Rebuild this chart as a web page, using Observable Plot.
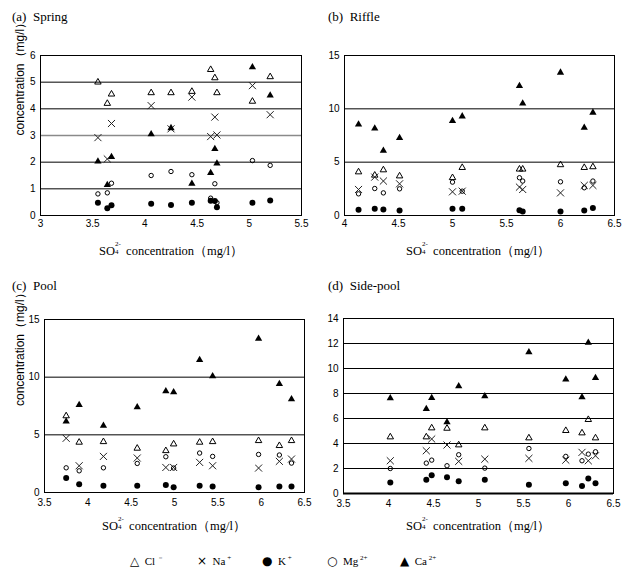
<!DOCTYPE html>
<html>
<head>
<meta charset="utf-8">
<script src="https://cdn.jsdelivr.net/npm/d3@7"></script>
<script src="https://cdn.jsdelivr.net/npm/@observablehq/plot@0.6"></script>
<style>
  html, body { margin: 0; padding: 0; background: white; }
  #root { position: relative; width: 632px; height: 577px; background: white; overflow: hidden; }
  .panel { position: absolute; }
  .title { position: absolute; font-family: 'Liberation Serif', 'Times New Roman', serif; font-size: 13px; white-space: pre; color: #000; line-height: 1; }
  .xlab { position: absolute; font-family: 'Liberation Serif', 'Times New Roman', serif; font-size: 12.5px; white-space: pre; transform: translateX(-50%); line-height: 14px; color: #000; }
  .ss { display: inline-block; position: relative; width: 8px; height: 10px; vertical-align: baseline; }
  .ss .up { position: absolute; left: 0; top: -4px; font-size: 7px; line-height: 7px; }
  .ss .dn { position: absolute; left: 0; top: 4px; font-size: 7px; line-height: 7px; }
  .leg { position: absolute; font-family: 'Liberation Serif', 'Times New Roman', serif; font-size: 11px; white-space: pre; line-height: 1; color: #000; }
  .sym { font-family: 'DejaVu Sans', sans-serif; font-size: 12px; }
  sup { font-size: 7px; vertical-align: 5px; line-height: 0; }
</style>
</head>
<body>
<div id="root"></div>
<script>
// ---------- data ----------
// (a) Spring
const springSO4 = [3.55, 3.64, 3.68, 4.06, 4.25, 4.45, 4.63, 4.67, 4.69, 5.03, 5.20];
const springCl  = [5.0, 4.2, 4.55, 4.6, 4.6, 4.65, 5.47, 5.16, 4.6, 4.28, 5.2];
const springNa  = [2.92, 2.12, 3.45, 4.12, 3.25, 4.44, 2.96, 3.69, 3.02, 4.87, 3.78];
const springK   = [0.48, 0.27, 0.38, 0.44, 0.39, 0.48, 0.55, 0.54, 0.31, 0.48, 0.56];
const springMg  = [0.81, 0.85, 1.21, 1.5, 1.65, 1.53, 0.65, 1.19, 0.48, 2.06, 1.88];
const springCa  = [2.03, 1.15, 2.2, 3.05, 3.28, 1.19, 1.6, 2.5, 1.95, 5.56, 4.5];

// (b) Riffle
const riffleSO4 = [4.13, 4.28, 4.36, 4.51, 5.0, 5.09, 5.62, 5.65, 6.0, 6.22, 6.30];
const riffleCl  = [4.08, 3.77, 4.27, 3.7, 3.54, 4.49, 4.34, 4.34, 4.75, 4.49, 4.56];
const riffleNa  = [2.44, 3.6, 3.23, 2.97, 2.22, 2.28, 2.66, 2.44, 2.12, 2.82, 2.82];
const riffleK   = [0.54, 0.63, 0.57, 0.47, 0.63, 0.63, 0.5, 0.38, 0.38, 0.47, 0.7];
const riffleMg  = [2.03, 2.53, 2.12, 2.5, 3.13, 2.28, 3.54, 3.23, 3.16, 2.6, 3.23];
const riffleCa  = [8.54, 8.16, 6.08, 7.28, 8.86, 9.3, 12.15, 10.5, 13.4, 8.23, 9.65];

// (c) Pool
const poolSO4 = [3.75, 3.90, 4.18, 4.57, 4.90, 4.99, 5.29, 5.44, 5.97, 6.21, 6.35];
const poolCl  = [6.64, 4.35, 4.4, 3.83, 3.62, 4.2, 4.35, 4.4, 4.49, 4.06, 4.49];
const poolNa  = [4.7, 2.32, 3.13, 2.99, 2.17, 2.17, 2.61, 2.32, 2.12, 2.7, 2.9];
const poolK   = [1.25, 0.72, 0.58, 0.58, 0.64, 0.46, 0.58, 0.52, 0.46, 0.52, 0.52];
const poolMg  = [2.14, 1.88, 2.14, 2.52, 3.1, 2.12, 3.42, 3.13, 3.3, 3.25, 2.55];
const poolCa  = [6.17, 7.59, 5.8, 7.39, 8.78, 8.7, 11.5, 10.09, 13.33, 9.42, 8.09];

// (d) Side-pool
const sideSO4 = [4.02, 4.42, 4.48, 4.65, 4.78, 5.07, 5.56, 5.97, 6.15, 6.22, 6.30];
const sideCl  = [4.52, 4.52, 5.24, 5.21, 3.88, 5.24, 4.44, 5.03, 4.84, 5.91, 4.44];
const sideNa  = [2.62, 3.42, 4.36, 3.88, 2.57, 2.75, 2.81, 2.67, 3.29, 2.62, 3.02];
const sideK   = [0.88, 1.1, 1.47, 1.31, 0.99, 1.1, 0.7, 0.83, 0.61, 1.2, 0.83];
const sideMg  = [2.0, 2.43, 2.67, 2.22, 3.1, 2.03, 3.6, 2.97, 2.62, 3.15, 3.34];
const sideCa  = [7.62, 6.76, 7.65, 5.7, 8.58, 7.78, 11.3, 9.12, 7.7, 12.06, 9.25];

// ticks / labels
const springXTicks = [3, 3.5, 4, 4.5, 5, 5.5];
const springYTicks = [0, 1, 2, 3, 4, 5, 6];
const riffleXTicks = [4, 4.5, 5, 5.5, 6, 6.5];
const riffleYTicks = [0, 5, 10, 15];
const poolXTicks = [3.5, 4, 4.5, 5, 5.5, 6, 6.5];
const poolYTicks = [0, 5, 10, 15];
const sideXTicks = [3.5, 4, 4.5, 5, 5.5, 6, 6.5];
const sideYTicks = [0, 2, 4, 6, 8, 10, 12, 14];
const springGray = [3];

const panelTitles = ["(a)  Spring", "(b)  Riffle", "(c)  Pool", "(d)  Side-pool"];
const yAxisLabel = "concentration（mg/l）";
const xAxisLabel = " concentration（mg/l）";
const ionNames = ["Cl", "Na", "K", "Mg", "Ca"];
const ionCharges = ["－", "+", "+", "2+", "2+"];
const ionGlyphs = ["△", "×", "●", "○", "▲"];

const SANS = "'Liberation Sans', Arial, sans-serif";

function makePanel(c) {
  const rows = c.so4.map((s, i) => ({so4: s, Cl: c.Cl[i], Na: c.Na[i], K: c.K[i], Mg: c.Mg[i], Ca: c.Ca[i]}));
  const marks = [
    Plot.ruleY(c.grid, {stroke: "black", strokeWidth: 1}),
  ];
  if (c.grayGrid) marks.push(Plot.ruleY(c.grayGrid, {stroke: "#8a8a8a", strokeWidth: 1.6}));
  marks.push(Plot.frame({stroke: "black", strokeWidth: 1}));
  if (c.thickBottom) marks.push(Plot.ruleY([c.yDomain[0]], {stroke: "black", strokeWidth: 2}));
  marks.push(
    Plot.axisX({ticks: c.xTicks, tickSize: 0, tickPadding: c.xPad, tickFormat: d => String(d), label: null, fontSize: 10, fontFamily: SANS}),
    Plot.axisY({ticks: c.yTicks, tickSize: 0, tickPadding: 5, tickFormat: d => String(d), label: null, fontSize: 10, fontFamily: SANS})
  );
  if (c.yLabel) {
    marks.push(Plot.text([c.yLabel], {text: d => d, frameAnchor: "left", rotate: -90, dx: c.yLabelDx, fontSize: 12, fontFamily: SANS, fill: "black"}));
  }
  marks.push(
    Plot.dot(rows, {x: "so4", y: "Cl", symbol: "triangle", r: 2.4, fill: "none", stroke: "black", strokeWidth: 1}),
    Plot.dot(rows, {x: "so4", y: "Na", symbol: "times", r: 3.3, stroke: "#222", strokeWidth: 1}),
    Plot.dot(rows, {x: "so4", y: "Mg", symbol: "circle", r: 2.2, fill: "none", stroke: "black", strokeWidth: 1}),
    Plot.dot(rows, {x: "so4", y: "K", symbol: "circle", r: 3, fill: "black", stroke: "none"}),
    Plot.dot(rows, {x: "so4", y: "Ca", symbol: "triangle", r: 2.7, fill: "black", stroke: "none"})
  );
  return Plot.plot({
    width: c.width, height: c.height,
    marginLeft: c.ml, marginRight: c.mr, marginTop: c.mt, marginBottom: c.mb,
    x: {domain: c.xDomain},
    y: {domain: c.yDomain},
    style: {fontFamily: SANS, fontSize: "10px", color: "black", background: "transparent", overflow: "visible"},
    marks
  });
}

const root = document.getElementById("root");
function place(el, left, top) {
  const d = document.createElement("div");
  d.className = "panel";
  d.style.left = left + "px"; d.style.top = top + "px";
  d.appendChild(el);
  root.appendChild(d);
}

place(makePanel({so4: springSO4, Cl: springCl, Na: springNa, K: springK, Mg: springMg, Ca: springCa,
  xDomain: [3, 5.5], yDomain: [0, 6], xTicks: springXTicks, yTicks: springYTicks, grid: [1, 2, 4, 5], grayGrid: springGray,
  width: 316, height: 270, ml: 40, mr: 15, mt: 55, mb: 55, xPad: 4, yLabel: yAxisLabel, yLabelDx: -20}), 0, 0);

place(makePanel({so4: riffleSO4, Cl: riffleCl, Na: riffleNa, K: riffleK, Mg: riffleMg, Ca: riffleCa,
  xDomain: [4, 6.5], yDomain: [0, 15], xTicks: riffleXTicks, yTicks: riffleYTicks, grid: [5, 10],
  width: 316, height: 270, ml: 28, mr: 18, mt: 55, mb: 55, xPad: 4}), 316, 0);

place(makePanel({so4: poolSO4, Cl: poolCl, Na: poolNa, K: poolK, Mg: poolMg, Ca: poolCa,
  xDomain: [3.5, 6.5], yDomain: [0, 15], xTicks: poolXTicks, yTicks: poolYTicks, grid: [5, 10],
  width: 316, height: 270, ml: 44, mr: 12, mt: 49, mb: 48, xPad: 6, yLabel: yAxisLabel, yLabelDx: -24}), 0, 270);

place(makePanel({so4: sideSO4, Cl: sideCl, Na: sideNa, K: sideK, Mg: sideMg, Ca: sideCa,
  xDomain: [3.5, 6.5], yDomain: [0, 14], xTicks: sideXTicks, yTicks: sideYTicks, grid: [2, 4, 6, 8, 10, 12], thickBottom: true,
  width: 316, height: 270, ml: 27, mr: 19, mt: 48, mb: 47, xPad: 6}), 316, 270);

// titles
const titlePos = [[12, 10], [328, 10], [12, 279], [328, 279]];
panelTitles.forEach((t, i) => {
  const el = document.createElement("div");
  el.className = "title";
  el.textContent = t;
  el.style.left = titlePos[i][0] + "px"; el.style.top = titlePos[i][1] + "px";
  root.appendChild(el);
});

// x axis labels
const xlabPos = [[171, 244], [478, 244], [174, 519], [478, 519]];
xlabPos.forEach(([x, y]) => {
  const el = document.createElement("div");
  el.className = "xlab";
  el.innerHTML = 'SO<span class="ss"><span class="up">2-</span><span class="dn">4</span></span>' + xAxisLabel;
  el.style.left = x + "px"; el.style.top = y + "px";
  root.appendChild(el);
});

// legend
const legX = [130, 197, 262, 327, 400];
ionNames.forEach((n, i) => {
  const el = document.createElement("div");
  el.className = "leg";
  el.innerHTML = '<span class="sym">' + ionGlyphs[i] + '</span>  ' + n + '<sup> ' + ionCharges[i] + '</sup>';
  el.style.left = legX[i] + "px"; el.style.top = "555px";
  root.appendChild(el);
});
</script>
</body>
</html>
